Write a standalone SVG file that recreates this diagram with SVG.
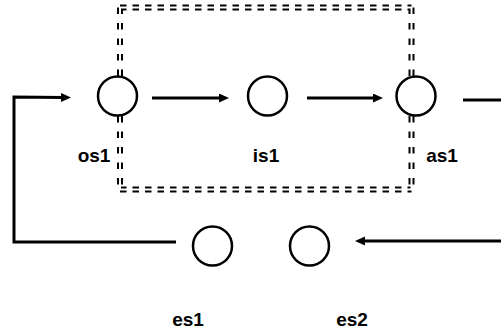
<svg xmlns="http://www.w3.org/2000/svg" width="501" height="333" viewBox="0 0 501 333">
  <style>
    .node { fill: #ffffff; stroke: #000000; stroke-width: 2.5; }
    .edge { fill: none; stroke: #000000; stroke-width: 3; }
    .label { font-family: "Liberation Sans", Arial, sans-serif; font-size: 19px; font-weight: bold; fill: #000000; text-anchor: middle; }
    .frame-h { fill: none; stroke: #000000; stroke-width: 6; stroke-dasharray: 6.5 6; }
    .frame-v { fill: none; stroke: #000000; stroke-width: 6; stroke-dasharray: 6.5 9; }
    .frame-gap { fill: none; stroke: #ffffff; stroke-width: 2; }
  </style>
  <defs>
    <marker id="arrow" markerUnits="userSpaceOnUse" markerWidth="11" markerHeight="10" refX="2" refY="4.5" orient="auto">
      <path d="M0,0 L10,4.5 L0,9 z" fill="#000000"/>
    </marker>
  </defs>

  <!-- double dashed boundary -->
  <g id="boundary">
    <path class="frame-h" d="M120,7.5 H411.5 M120,189.5 H411.5"/>
    <path class="frame-v" d="M120,7.5 V189.5 M411.5,7.5 V189.5"/>
    <rect class="frame-gap" x="120" y="7.5" width="291.5" height="182"/>
  </g>

  <!-- connectors -->
  <g id="connectors">
    <line class="edge" x1="152" y1="98" x2="221" y2="98" marker-end="url(#arrow)"/>
    <line class="edge" x1="307" y1="98" x2="375" y2="98" marker-end="url(#arrow)"/>
    <line class="edge" x1="463" y1="100" x2="501" y2="100"/>
    <polyline class="edge" points="176,242 14,242 14,97 63,97.5" marker-end="url(#arrow)"/>
    <line class="edge" x1="501" y1="241" x2="363" y2="241" marker-end="url(#arrow)"/>
  </g>

  <g id="os1">
    <circle class="node" cx="117.5" cy="96" r="19.5"/>
    <text class="label" x="94" y="162">os1</text>
  </g>
  <g id="is1">
    <circle class="node" cx="267.5" cy="96" r="19.5"/>
    <text class="label" x="266" y="162">is1</text>
  </g>
  <g id="as1">
    <circle class="node" cx="416" cy="96" r="19.5"/>
    <text class="label" x="442" y="162">as1</text>
  </g>
  <g id="es1">
    <circle class="node" cx="212.5" cy="246" r="19.5"/>
    <text class="label" x="188" y="326">es1</text>
  </g>
  <g id="es2">
    <circle class="node" cx="309.5" cy="246" r="19.5"/>
    <text class="label" x="352" y="326">es2</text>
  </g>
</svg>
